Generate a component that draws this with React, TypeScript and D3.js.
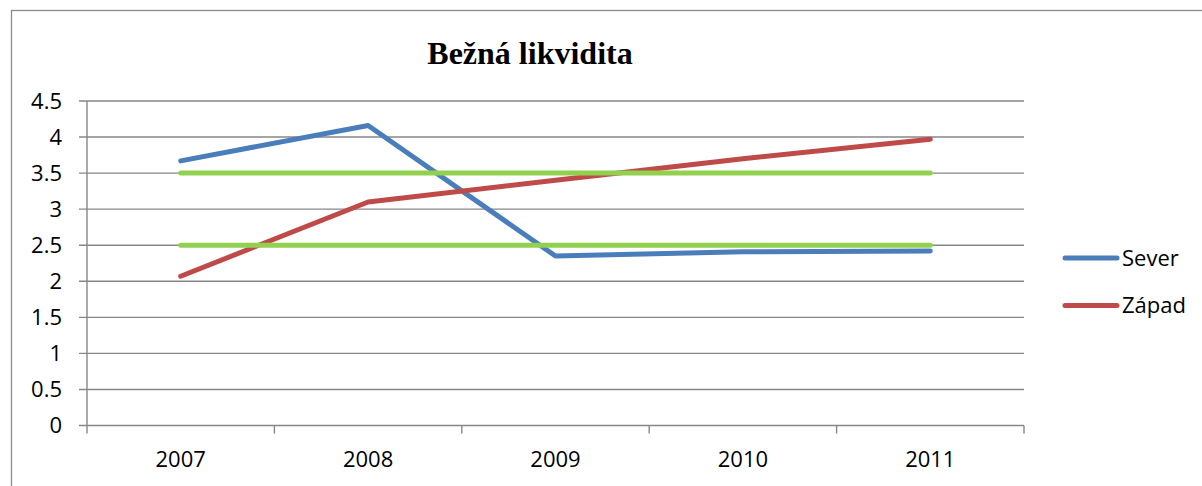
import React from "react";
import * as d3 from "d3";

const title = "Bežná likvidita";
const years = ["2007", "2008", "2009", "2010", "2011"];
const sever = [3.67, 4.16, 2.35, 2.41, 2.42];
const zapad = [2.07, 3.1, 3.4, 3.7, 3.97];
const upperLimit = [3.5, 3.5, 3.5, 3.5, 3.5];
const lowerLimit = [2.5, 2.5, 2.5, 2.5, 2.5];
const yTicks = [0, 0.5, 1, 1.5, 2, 2.5, 3, 3.5, 4, 4.5];

const W = 1202;
const H = 486;
const plot = { left: 87, right: 1024, top: 101, bottom: 425.5 };
const FONT = "'Open Sans', 'Liberation Sans', sans-serif";
const GRID = "#878787";

export default function App() {
  const x = d3.scaleBand<string>().domain(years).range([plot.left, plot.right]);
  const y = d3.scaleLinear().domain([0, 4.5]).range([plot.bottom, plot.top]);
  const cx = (d: string) => (x(d) as number) + x.bandwidth() / 2;
  const line = d3
    .line<number>()
    .x((_, i) => cx(years[i]))
    .y((v) => y(v));

  const series = [
    { name: "Sever", values: sever, color: "#4A7EBB", legend: true },
    { name: "Západ", values: zapad, color: "#BE4B48", legend: true },
    { name: "Horní", values: upperLimit, color: "#92D050", legend: false },
    { name: "Dolní", values: lowerLimit, color: "#92D050", legend: false },
  ];
  const boundaries = [...years.map((d) => x(d) as number), plot.right];

  return (
    <svg
      width={W}
      height={H}
      style={{ position: "absolute", left: 0, top: 0, background: "#fff" }}
    >
      <rect x={0} y={0} width={W} height={H} fill="#fff" />
      <rect
        x={11.5}
        y={10.5}
        width={W}
        height={H}
        fill="none"
        stroke="#8c8c8c"
        strokeWidth={1.3}
      />
      <text
        x={530}
        y={64}
        textAnchor="middle"
        fontFamily="'Liberation Serif', 'Times New Roman', serif"
        fontWeight="bold"
        fontSize={32}
        fill="#000"
      >
        {title}
      </text>
      {yTicks.map((t) => (
        <g key={t}>
          <line
            x1={plot.left - 8}
            x2={plot.right}
            y1={y(t)}
            y2={y(t)}
            stroke={GRID}
            strokeWidth={1.4}
          />
          <text
            x={62}
            y={y(t)}
            dy="0.35em"
            textAnchor="end"
            fontFamily={FONT}
            fontSize={22}
            fill="#000"
          >
            {String(t)}
          </text>
        </g>
      ))}
      <line
        x1={plot.left}
        x2={plot.left}
        y1={plot.top}
        y2={plot.bottom}
        stroke={GRID}
        strokeWidth={1.4}
      />
      {boundaries.map((b, i) => (
        <line
          key={i}
          x1={b}
          x2={b}
          y1={plot.bottom}
          y2={plot.bottom + 8}
          stroke={GRID}
          strokeWidth={1.4}
        />
      ))}
      {years.map((d) => (
        <text
          key={d}
          x={cx(d)}
          y={467}
          textAnchor="middle"
          fontFamily={FONT}
          fontSize={22}
          fill="#000"
        >
          {d}
        </text>
      ))}
      {series.map((s) => (
        <path
          key={s.name}
          d={line(s.values) || ""}
          fill="none"
          stroke={s.color}
          strokeWidth={5}
          strokeLinecap="round"
          strokeLinejoin="round"
        />
      ))}
      {series
        .filter((s) => s.legend)
        .map((s, i) => {
          const ly = 258 + i * 47.5;
          return (
            <g key={s.name}>
              <line
                x1={1065}
                x2={1117}
                y1={ly}
                y2={ly}
                stroke={s.color}
                strokeWidth={5}
                strokeLinecap="round"
              />
              <text
                x={1122}
                y={ly}
                dy="0.35em"
                fontFamily={FONT}
                fontSize={22}
                fill="#000"
              >
                {s.name}
              </text>
            </g>
          );
        })}
    </svg>
  );
}
